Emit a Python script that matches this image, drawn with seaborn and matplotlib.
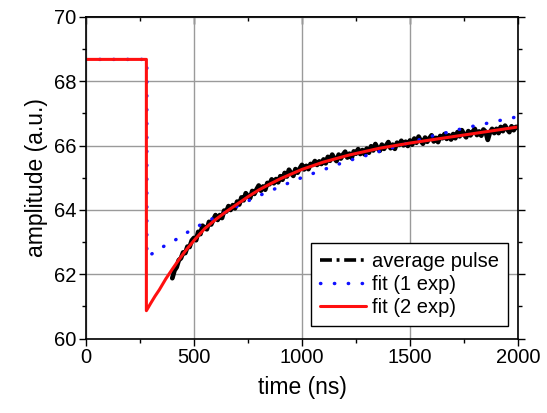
import matplotlib
matplotlib.use("Agg")
import matplotlib.pyplot as plt
import seaborn as sns
import pandas as pd
from matplotlib.ticker import MultipleLocator, NullFormatter

# ---- data ----
pulse_t = list(range(400, 2001, 10))
pulse_v = [
    61.88, 62.12, 62.22, 62.44, 62.50, 62.68, 62.66, 62.86, 62.85, 63.05,
    63.13, 63.06, 63.32, 63.25, 63.51, 63.44, 63.40, 63.63, 63.55, 63.70,
    63.84, 63.69, 63.84, 63.75, 63.98, 63.95, 64.12, 64.00, 64.15, 64.05,
    64.26, 64.17, 64.39, 64.30, 64.52, 64.43, 64.37, 64.59, 64.50, 64.64,
    64.76, 64.60, 64.73, 64.63, 64.84, 64.80, 64.95, 64.83, 64.96, 64.86,
    65.05, 64.94, 65.15, 65.04, 65.25, 65.14, 65.06, 65.27, 65.16, 65.29,
    65.40, 65.26, 65.37, 65.27, 65.43, 65.40, 65.52, 65.40, 65.51, 65.43,
    65.57, 65.45, 65.65, 65.53, 65.72, 65.60, 65.52, 65.72, 65.60, 65.72,
    65.81, 65.63, 65.75, 65.62, 65.82, 65.75, 65.89, 65.74, 65.86, 65.73,
    65.91, 65.78, 65.98, 65.85, 66.05, 65.92, 65.84, 66.03, 65.90, 66.01,
    66.11, 65.92, 66.03, 65.90, 66.09, 66.02, 66.15, 66.01, 66.12, 65.99,
    66.16, 66.03, 66.22, 66.09, 66.28, 66.15, 66.06, 66.25, 66.12, 66.23,
    66.32, 66.13, 66.24, 66.11, 66.30, 66.23, 66.36, 66.21, 66.32, 66.19,
    66.36, 66.23, 66.42, 66.29, 66.48, 66.35, 66.26, 66.45, 66.32, 66.43,
    66.52, 66.33, 66.44, 66.31, 66.50, 66.43, 66.18, 66.41, 66.52, 66.39,
    66.52, 66.39, 66.58, 66.45, 66.62, 66.51, 66.42, 66.60, 66.48, 66.58,
    66.58,
]

fit1_t = [0, 282, 282, 304, 358, 412, 466, 520, 574, 636, 690, 744, 797, 851,
          905, 959, 1016, 1070, 1124, 1208, 1262, 1320, 1430, 1537, 1590, 1644,
          1700, 1783, 1840, 1895, 1948, 2000]
fit1_v = [68.68, 68.68, 62.55, 62.63, 62.86, 63.06, 63.29, 63.50, 63.69, 63.89,
          64.08, 64.26, 64.43, 64.59, 64.74, 64.90, 65.05, 65.18, 65.31, 65.52,
          65.62, 65.74, 65.96, 66.17, 66.28, 66.36, 66.46, 66.59, 66.67, 66.75,
          66.83, 66.90]

fit2_t = [0, 280, 280, 300, 320, 340, 370, 400, 430, 460, 500, 550, 600, 650,
          700, 750, 800, 850, 900, 1000, 1100, 1220, 1360, 1500, 1750, 2000]
fit2_v = [68.68, 68.68, 60.87, 61.10, 61.32, 61.52, 61.86, 62.16, 62.45, 62.72,
          63.05, 63.42, 63.70, 63.95, 64.18, 64.41, 64.62, 64.80, 64.97, 65.26,
          65.49, 65.71, 65.92, 66.08, 66.33, 66.58]

labels = ["average pulse", "fit (1 exp)", "fit (2 exp)"]

df_pulse = pd.DataFrame({"t": pulse_t, "v": pulse_v})
df_fit1 = pd.DataFrame({"t": fit1_t, "v": fit1_v})
df_fit2 = pd.DataFrame({"t": fit2_t, "v": fit2_v})

sns.set_theme(style="white")
plt.rcParams["font.family"] = ["Liberation Sans", "DejaVu Sans"]
plt.rcParams["axes.unicode_minus"] = False
for k in ["text.color", "axes.labelcolor", "xtick.color", "ytick.color"]:
    plt.rcParams[k] = "black"

fig = plt.figure(figsize=(5.47, 4.13), dpi=100)
ax = fig.add_axes([0.157, 0.180, 0.790, 0.779])

sns.lineplot(data=df_pulse, x="t", y="v", ax=ax, sort=False, estimator=None,
             color="black", linewidth=3.4, label=labels[0])
sns.lineplot(data=df_fit1, x="t", y="v", ax=ax, sort=False, estimator=None,
             color="#1010ff", linewidth=2.5, label=labels[1])
ax.lines[-1].set_dashes([0.1, 3.9])
ax.lines[-1].set_dash_capstyle("round")
sns.lineplot(data=df_fit2, x="t", y="v", ax=ax, sort=False, estimator=None,
             color="#ff1010", linewidth=2.2, label=labels[2])

ax.set_xlim(0, 2000)
ax.set_ylim(60, 70)
ax.xaxis.set_major_locator(MultipleLocator(500))
ax.xaxis.set_minor_locator(MultipleLocator(250))
ax.yaxis.set_major_locator(MultipleLocator(2))
ax.yaxis.set_minor_locator(MultipleLocator(1))

ax.grid(True, which="major", color="#9a9a9a", linewidth=1.0)
ax.set_axisbelow(True)

for s in ax.spines.values():
    s.set_color("black")
    s.set_linewidth(1.2)

ax.tick_params(axis="both", which="major", direction="out", length=5, width=1,
               color="black", labelsize=14.5, pad=2)
ax.tick_params(axis="both", which="minor", direction="out", length=3, width=1,
               color="black")
ax.tick_params(which="both", bottom=True, left=True, right=True, top=False)

sec = ax.secondary_xaxis("top")
sec.xaxis.set_major_locator(MultipleLocator(500))
sec.xaxis.set_minor_locator(MultipleLocator(250))
sec.xaxis.set_major_formatter(NullFormatter())
sec.tick_params(which="major", direction="in", length=5, width=1, color="black")
sec.tick_params(which="minor", direction="in", length=3, width=1, color="black")
sec.spines["top"].set_linewidth(1.2)

ax.set_xlabel("time (ns)", fontsize=16.5, labelpad=6)
ax.set_ylabel("amplitude (a.u.)", fontsize=16.5, labelpad=4)

leg = ax.legend(loc="lower right", bbox_to_anchor=(0.977, 0.039), fontsize=14.5,
                frameon=True, fancybox=False, edgecolor="black", framealpha=1,
                handlelength=2.3, handletextpad=0.3, borderpad=0.45,
                labelspacing=0.2, borderaxespad=0)
leg.get_frame().set_linewidth(1.0)
h0 = leg.legend_handles[0]
h0.set_linewidth(2.6)
h0.set_dashes([3.3, 1.3, 0.8, 1.3])

fig.savefig("out.png", dpi=100)
